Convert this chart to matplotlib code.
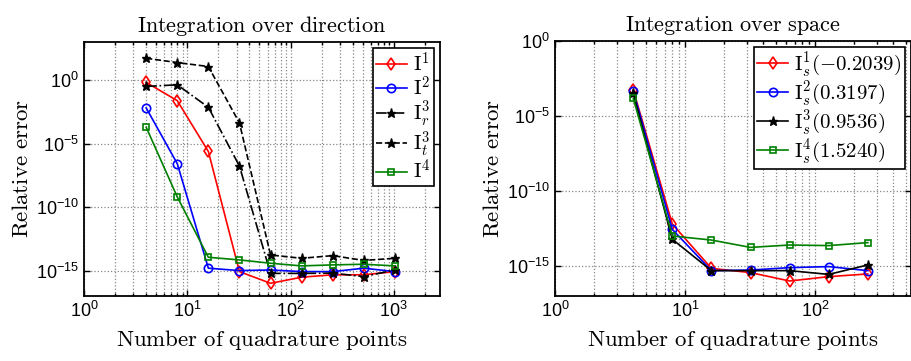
import numpy as np
import matplotlib.pyplot as plt
from matplotlib.ticker import LogLocator, NullLocator

plt.rcParams['font.family'] = ['Liberation Sans', 'DejaVu Sans']
plt.rcParams['mathtext.fontset'] = 'custom'
plt.rcParams['mathtext.rm'] = 'Liberation Sans'
plt.rcParams['mathtext.it'] = 'Liberation Sans:italic'

# 方向积分: 求积点数与相对误差的指数
n_dir = [4, 8, 16, 32, 64, 128, 256, 512, 1024]
e_i1 = [-0.18, -1.62, -5.62, -15.08, -16.0, -15.52, -15.33, -15.33, -15.08]
e_i2 = [-2.19, -6.58, -14.81, -15.0, -14.95, -15.08, -15.08, -14.81, -15.08]
e_i3r = [-0.5, -0.37, -2.14, -6.77, -15.22, -15.22, -15.2, -15.47, -14.95]
e_i3t = [1.72, 1.38, 1.07, -3.37, -13.77, -14.03, -13.82, -14.2, -14.03]
e_i4 = [-3.71, -9.2, -13.95, -14.16, -14.42, -14.63, -14.55, -14.5, -14.63]

# 空间积分
n_sp = [4, 8, 16, 32, 64, 128, 256]
e_s1 = [-3.24, -12.2, -15.16, -15.44, -16.0, -15.71, -15.53]
e_s2 = [-3.33, -12.56, -15.31, -15.27, -15.11, -15.04, -15.31]
e_s3 = [-3.49, -13.22, -15.31, -15.31, -15.31, -15.56, -14.93]
e_s4 = [-3.82, -13.0, -13.27, -13.76, -13.6, -13.64, -13.44]

dir_labels = [r'$\mathrm{I}^1$', r'$\mathrm{I}^2$', r'$\mathrm{I}_r^3$',
              r'$\mathrm{I}_t^3$', r'$\mathrm{I}^4$']
sp_labels = [r'$\mathrm{I}_s^1(-0.2039)$', r'$\mathrm{I}_s^2(0.3197)$',
             r'$\mathrm{I}_s^3(0.9536)$', r'$\mathrm{I}_s^4(1.5240)$']

green = '#008000'


def style_axes(ax, xlim, ylim, title):
    ax.set_xscale('log')
    ax.set_yscale('log')
    ax.set_xlim(*xlim)
    ax.set_ylim(*ylim)
    ax.set_yticks([1e0, 1e-5, 1e-10, 1e-15])
    ax.yaxis.set_minor_locator(NullLocator())
    ax.xaxis.set_major_locator(LogLocator(base=10))
    ax.xaxis.set_minor_locator(LogLocator(base=10, subs=np.arange(2, 10)))
    ax.grid(True, which='major', ls=':', color='#888888', lw=0.9)
    ax.xaxis.grid(True, which='minor', ls=':', color='#888888', lw=0.9)
    ax.tick_params(which='both', direction='in', top=True, right=True,
                   labelsize=13, width=1)
    ax.tick_params(which='major', length=4)
    ax.tick_params(which='minor', length=2)
    for s in ax.spines.values():
        s.set_linewidth(1.3)
    ax.set_title(title, fontsize=16, math_fontfamily='cm', pad=7)
    ax.set_xlabel(r'$\mathrm{Number\ of\ quadrature\ points}$', fontsize=16.5,
                  math_fontfamily='cm', labelpad=5)
    ax.set_ylabel(r'$\mathrm{Relative\ error}$', fontsize=16.5,
                  math_fontfamily='cm', labelpad=2)


fig = plt.figure(figsize=(9.12, 3.61), dpi=100)
ax1 = fig.add_axes([84 / 912, 1 - 296 / 361, 356 / 912, 254 / 361])
ax2 = fig.add_axes([555 / 912, 1 - 296 / 361, 356 / 912, 255 / 361])

p = lambda e: 10.0 ** np.array(e)
kw = dict(lw=1.2, ms=6, mfc='none', mew=1.2)

ax1.plot(n_dir, p(e_i1), '-', marker='d', color='red', label=dir_labels[0], **kw)
ax1.plot(n_dir, p(e_i2), '-', marker='o', color='blue', label=dir_labels[1], **kw)
ax1.plot(n_dir, p(e_i3r), '-.', marker='*', color='black', lw=1.2, ms=6.5,
         label=dir_labels[2])
ax1.plot(n_dir, p(e_i3t), '--', marker='*', color='black', lw=1.2, ms=6.5,
         label=dir_labels[3])
ax1.plot(n_dir, p(e_i4), '-', marker='s', color=green, label=dir_labels[4],
         lw=1.2, ms=5, mfc='none', mew=1.2)
style_axes(ax1, (1, 2800), (1e-17, 1e3),
           r'$\mathrm{Integration\ over\ direction}$')

ax2.plot(n_sp, p(e_s1), '-', marker='d', color='red', label=sp_labels[0], **kw)
ax2.plot(n_sp, p(e_s2), '-', marker='o', color='blue', label=sp_labels[1], **kw)
ax2.plot(n_sp, p(e_s3), '-', marker='*', color='black', lw=1.2, ms=6.5,
         label=sp_labels[2])
ax2.plot(n_sp, p(e_s4), '-', marker='s', color=green, label=sp_labels[3],
         lw=1.2, ms=5, mfc='none', mew=1.2)
style_axes(ax2, (1, 550), (1e-17, 1e0),
           r'$\mathrm{Integration\ over\ space}$')

for ax in (ax1, ax2):
    leg = ax.legend(loc='upper right', fontsize=15, fancybox=False,
                    edgecolor='black', framealpha=1, borderpad=0.15,
                    labelspacing=0.0, handlelength=1.5, handletextpad=0.3,
                    borderaxespad=0.3)
    leg.get_frame().set_linewidth(1.2)
    for t in leg.get_texts():
        t.set_math_fontfamily('cm')

fig.savefig('out.png', dpi=100)
